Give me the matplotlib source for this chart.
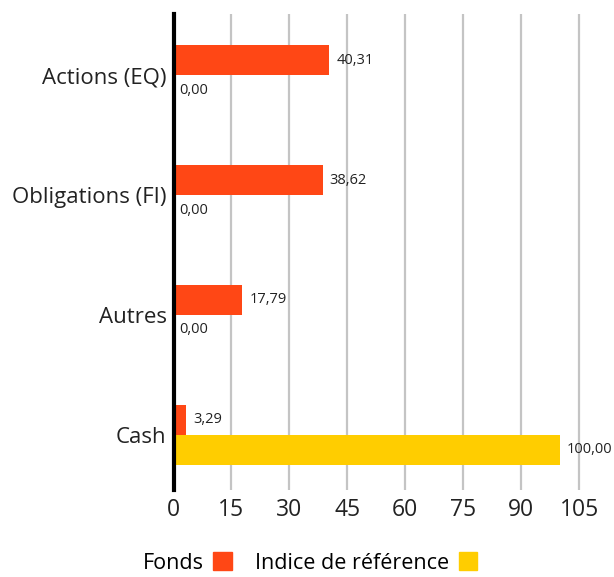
import matplotlib
matplotlib.use("Agg")
import matplotlib.pyplot as plt
from matplotlib.patches import Patch
import numpy as np

categories = ["Actions (EQ)", "Obligations (FI)", "Autres", "Cash"]
fonds = [40.31, 38.62, 17.79, 3.29]
indice = [0.00, 0.00, 0.00, 100.00]
series_names = ["Fonds", "Indice de référence"]
xticks = [0, 15, 30, 45, 60, 75, 90, 105]

c_fonds = "#FF4715"
c_ind = "#FFCD00"

plt.rcParams['font.family'] = ['Open Sans', 'DejaVu Sans']

fig = plt.figure(figsize=(6.14, 5.77), dpi=100)
ax = fig.add_axes([173.5/614, 1 - 490/577, (614 - 173.5)/614, (490 - 14)/577])

y = np.arange(len(categories))
h = 0.25
ax.barh(y - h/2, fonds, height=h, color=c_fonds, zorder=3)
ax.barh(y + h/2, indice, height=h, color=c_ind, zorder=3)

def fmt(v):
    return f"{v:.2f}".replace(".", ",")

for yi, v in zip(y, fonds):
    ax.annotate(fmt(v), (v, yi - h/2), xytext=(5, 0), textcoords="offset points",
                va="center", ha="left", fontsize=10.5, color="#222222")
for yi, v in zip(y, indice):
    ax.annotate(fmt(v), (v, yi + h/2), xytext=(5 if v > 0 else 4, 0), textcoords="offset points",
                va="center", ha="left", fontsize=10.5, color="#222222")

ax.set_xlim(0, 114)
ax.set_ylim(3.46, -0.51)
ax.set_yticks(y)
ax.set_yticklabels(categories, fontsize=16, color="#222222")
ax.set_xticks(xticks)
ax.set_xticklabels([str(t) for t in xticks], fontsize=16.5, color="#222222")
ax.tick_params(axis="both", length=0)
ax.tick_params(axis="y", pad=5)
ax.tick_params(axis="x", pad=6)

for s in ["top", "right", "bottom"]:
    ax.spines[s].set_visible(False)
ax.spines["left"].set_linewidth(3)
ax.spines["left"].set_color("black")
ax.spines["left"].set_zorder(5)
ax.grid(axis="x", color="#c4c4c4", linewidth=1.6, zorder=0)
ax.set_axisbelow(True)

handles = [Patch(color=c_fonds), Patch(color=c_ind)]
fig.legend(handles, series_names, loc="center", bbox_to_anchor=(310/614, 1 - 563/577),
           ncol=2, frameon=False, markerfirst=False, fontsize=15.5,
           handlelength=0.85, handleheight=0.85, handletextpad=0.45, columnspacing=1.1)

fig.savefig("out.png", dpi=100)
